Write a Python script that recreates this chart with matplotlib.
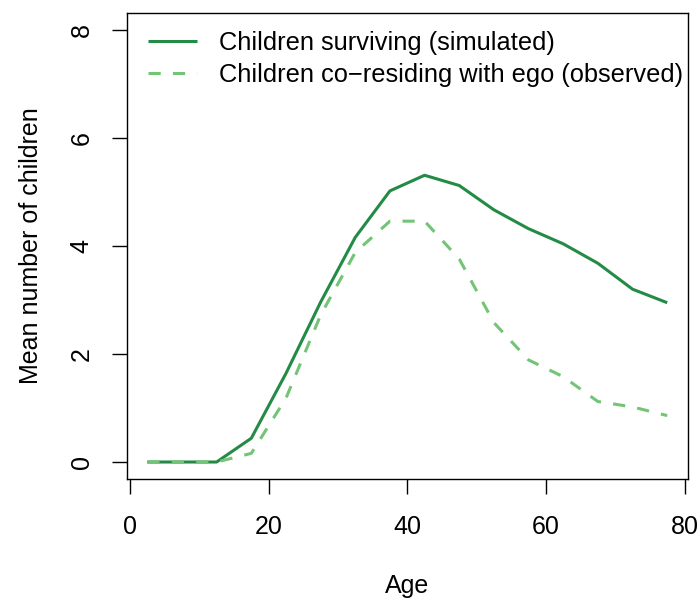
import matplotlib
matplotlib.use("Agg")
import matplotlib.pyplot as plt

age = [2.5, 7.5, 12.5, 17.5, 22.5, 27.5, 32.5, 37.5, 42.5, 47.5, 52.5, 57.5, 62.5, 67.5, 72.5, 77.5]
surviving = [0, 0, 0, 0.44, 1.64, 2.96, 4.16, 5.02, 5.31, 5.12, 4.67, 4.32, 4.04, 3.68, 3.20, 2.95]
coresiding = [0, 0, 0, 0.16, 1.18, 2.72, 3.88, 4.46, 4.46, 3.76, 2.58, 1.89, 1.58, 1.12, 1.02, 0.86]
xticks = [0, 20, 40, 60, 80]
yticks = [0, 2, 4, 6, 8]

plt.rcParams['font.family'] = ['Liberation Sans', 'DejaVu Sans']

fig = plt.figure(figsize=(6.97, 6.0), dpi=100)
ax = fig.add_axes([126.5/697, 1 - 479.3/600, (688-126.5)/697, (479.3-12.7)/600])

ax.plot(age, surviving, color='#238b45', lw=2.2, solid_capstyle='butt', solid_joinstyle='round',
        label='Children surviving (simulated)')
ax.plot(age, coresiding, color='#74c476', lw=2.2, dashes=(4, 4), dash_capstyle='butt',
        label='Children co\u2212residing with ego (observed)')

ax.set_xlim(-0.5, 80.5)
ax.set_ylim(-0.32, 8.32)
ax.set_xticks(xticks)
ax.set_yticks(yticks)
ax.set_xticklabels([str(v) for v in xticks], fontsize=18)
ax.set_yticklabels([str(v) for v in yticks], fontsize=18, rotation=90, va='center')
ax.tick_params(direction='out', length=11, width=1, color='black')
ax.tick_params(axis='x', pad=15)
ax.tick_params(axis='y', pad=12.5)
for s in ax.spines.values():
    s.set_linewidth(1)
    s.set_color('black')

ax.set_xlabel('Age', fontsize=18, labelpad=25)
ax.set_ylabel('Mean number of children', fontsize=18, labelpad=19.5)

leg = ax.legend(loc='upper left', bbox_to_anchor=(148/697, 1 - 31/600), bbox_transform=fig.transFigure,
                frameon=False, fontsize=18.3, handlelength=1.93, handletextpad=0.86,
                labelspacing=0.33, borderpad=0, borderaxespad=0)

fig.savefig('out.png', dpi=100)
